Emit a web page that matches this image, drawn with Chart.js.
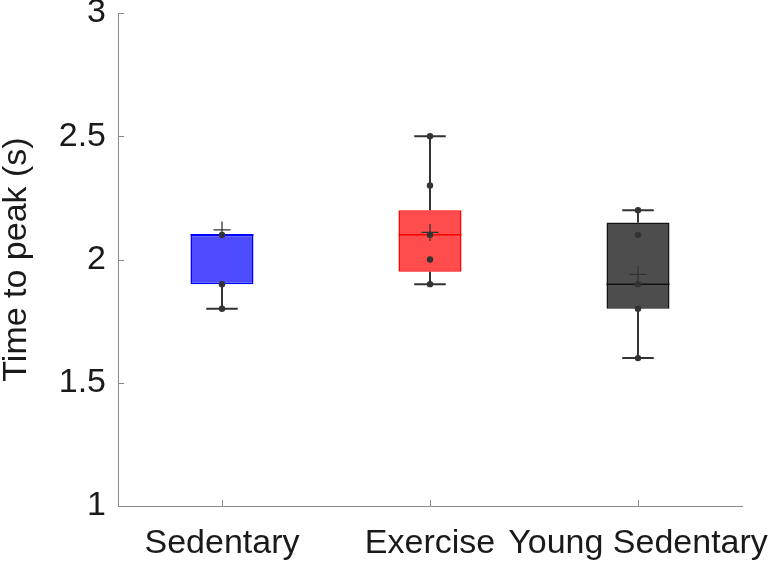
<!DOCTYPE html>
<html>
<head>
<meta charset="utf-8">
<script src="https://cdn.jsdelivr.net/npm/chart.js@4/dist/chart.umd.min.js"></script>
<style>
  html, body { margin: 0; padding: 0; background: #fff; }
  #wrap { width: 773px; height: 564px; }
</style>
</head>
<body>
<div id="wrap"><canvas id="c" width="773" height="564"></canvas></div>
<script>
// ---- data ----
const categories = ['Sedentary', 'Exercise', 'Young Sedentary'];
const q1 = [1.9, 1.95, 1.8];
const q3 = [2.1, 2.2, 2.15];
const medians = [2.1, 2.1, 1.9];
const whiskerLow = [1.8, 1.9, 1.6];
const whiskerHigh = [2.1, 2.5, 2.2];
const means = [2.12, 2.11, 1.94];
const sedentaryPoints = [2.1, 1.9, 1.8];
const exercisePoints = [2.5, 2.3, 2.1, 2.0, 1.9];
const youngPoints = [2.2, 2.1, 1.9, 1.8, 1.6];
const yTicks = [1, 1.5, 2, 2.5, 3];
const yTitle = 'Time to peak (s)';

// ---- styles ----
const boxFill = ['rgb(77,77,255)', 'rgb(255,77,77)', 'rgb(77,77,77)'];
const boxLine = ['rgb(0,0,255)', 'rgb(255,0,0)', 'rgb(20,20,20)'];
const medianColors = ['rgb(0,0,255)', 'rgb(255,0,0)', 'rgb(20,20,20)'];
const markColor = '#333333';
const axisColor = '#8a8a8a';
const textColor = '#1a1a1a';
const fontFamily = "'Liberation Sans', Arial, Helvetica, sans-serif";
const fontSize = 34;

const groupPoints = [sedentaryPoints, exercisePoints, youngPoints];
const pointData = [];
groupPoints.forEach((arr, i) => arr.forEach(v => pointData.push({ x: categories[i], y: v })));

const boxPlugin = {
  id: 'boxExtras',
  afterDatasetDraw(chart, args) {
    if (chart.data.datasets[args.index].label !== 'boxes') return;
    const ctx = chart.ctx;
    const ys = chart.scales.y;
    const meta = args.meta;
    categories.forEach((c, i) => {
      const el = meta.data[i];
      const cx = el.x, w = el.width;
      const capHalf = w / 4;
      ctx.save();
      ctx.strokeStyle = markColor;
      ctx.lineWidth = 2;
      ctx.lineCap = 'butt';
      if (whiskerHigh[i] > q3[i]) {
        const y0 = ys.getPixelForValue(q3[i]), y1 = ys.getPixelForValue(whiskerHigh[i]);
        ctx.beginPath(); ctx.moveTo(cx, y0); ctx.lineTo(cx, y1);
        ctx.moveTo(cx - capHalf, y1); ctx.lineTo(cx + capHalf, y1); ctx.stroke();
      }
      if (whiskerLow[i] < q1[i]) {
        const y0 = ys.getPixelForValue(q1[i]), y1 = ys.getPixelForValue(whiskerLow[i]);
        ctx.beginPath(); ctx.moveTo(cx, y0); ctx.lineTo(cx, y1);
        ctx.moveTo(cx - capHalf, y1); ctx.lineTo(cx + capHalf, y1); ctx.stroke();
      }
      const my = ys.getPixelForValue(medians[i]);
      ctx.strokeStyle = medianColors[i];
      ctx.lineWidth = 1.5;
      ctx.beginPath(); ctx.moveTo(cx - w / 2, my); ctx.lineTo(cx + w / 2, my); ctx.stroke();
      ctx.restore();
    });
  },
  afterDraw(chart) {
    const ctx = chart.ctx;
    const area = chart.chartArea;
    const xs = chart.scales.x, ys = chart.scales.y;
    ctx.save();
    ctx.strokeStyle = axisColor;
    ctx.lineWidth = 1;
    ctx.beginPath();
    ys.ticks.forEach(t => {
      const py = Math.round(ys.getPixelForValue(t.value)) + 0.5;
      ctx.moveTo(area.left, py); ctx.lineTo(area.left + 6, py);
    });
    categories.forEach((c, i) => {
      const px = Math.round(xs.getPixelForValue(i)) + 0.5;
      ctx.moveTo(px, area.bottom); ctx.lineTo(px, area.bottom - 6);
    });
    ctx.stroke();
    ctx.restore();
  }
};

new Chart(document.getElementById('c'), {
  type: 'bar',
  data: {
    labels: categories,
    datasets: [
      {
        type: 'line',
        label: 'points',
        data: pointData,
        showLine: false,
        pointRadius: 3.2,
        pointBackgroundColor: markColor,
        pointBorderColor: markColor,
        pointBorderWidth: 0,
        order: 0
      },
      {
        type: 'line',
        label: 'means',
        data: means,
        showLine: false,
        pointStyle: 'cross',
        pointRadius: 8.5,
        pointBorderColor: markColor,
        pointBorderWidth: 1.3,
        order: 1
      },
      {
        type: 'bar',
        label: 'boxes',
        data: categories.map((c, i) => [q1[i], q3[i]]),
        backgroundColor: boxFill,
        borderColor: boxLine,
        borderWidth: 1.5,
        borderSkipped: false,
        barPercentage: 0.303,
        categoryPercentage: 1,
        order: 2
      }
    ]
  },
  plugins: [boxPlugin],
  options: {
    responsive: false,
    animation: false,
    events: [],
    layout: { padding: { left: 0, right: 31, top: 13, bottom: 0 } },
    plugins: { legend: { display: false }, tooltip: { enabled: false } },
    scales: {
      x: {
        type: 'category',
        offset: true,
        grid: { display: true, drawOnChartArea: false, drawTicks: false },
        border: { display: true, color: axisColor, width: 1 },
        ticks: {
          color: textColor,
          font: { family: fontFamily, size: fontSize },
          padding: 17,
          maxRotation: 0,
          minRotation: 0,
          autoSkip: false
        },
        afterFit(scale) {
          scale.height = 58;
          scale.paddingLeft = 0;
          scale.paddingRight = 0;
        }
      },
      y: {
        type: 'linear',
        min: 1,
        max: 3,
        grid: { display: true, drawOnChartArea: false, drawTicks: false },
        border: { display: true, color: axisColor, width: 1 },
        afterBuildTicks(scale) {
          scale.ticks = yTicks.map(v => ({ value: v }));
        },
        ticks: {
          color: textColor,
          font: { family: fontFamily, size: fontSize },
          padding: 12,
          callback: v => String(v)
        },
        title: {
          display: true,
          text: yTitle,
          color: textColor,
          font: { family: fontFamily, size: fontSize, lineHeight: 0.95 },
          padding: { top: 0, bottom: 0 }
        },
        afterFit(scale) {
          scale.width = 118;
          scale.paddingTop = 0;
          scale.paddingBottom = 0;
        }
      }
    }
  }
});
</script>
</body>
</html>
